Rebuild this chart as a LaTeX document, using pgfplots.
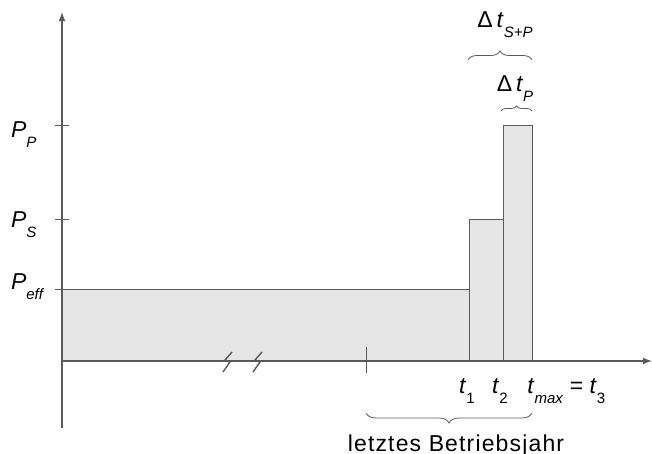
\documentclass[border=0pt]{standalone}
\usepackage{fontspec}
\setmainfont{Liberation Sans}
\usepackage{pgfplots}
\pgfplotsset{compat=1.18}
\usetikzlibrary{decorations.pathreplacing}
\definecolor{barfill}{RGB}{230,230,230}
\definecolor{linegray}{RGB}{90,90,90}
\newcommand{\sub}[1]{\raisebox{-0.4em}{\fontsize{7.5}{8}\selectfont #1}}

\begin{document}
\begin{tikzpicture}[font=\fontsize{11.5}{13}\selectfont]
\begin{axis}[
    x=0.5pt, y=0.5pt,
    xmin=0, xmax=590, ymin=-67, ymax=349,
    axis lines=middle,
    enlargelimits=false,
    axis line style={linegray, line width=0.6pt, -latex},
    xtick=\empty,
    ytick={71,141,235},
    yticklabels={{},{},{}},
    major tick length=6.5pt,
    tick style={linegray, line width=0.5pt},
    clip=false,
]
% power levels over time
\addplot[fill=barfill, draw=linegray, line width=0.5pt]
    coordinates {(0,0) (0,71) (407,71) (407,141) (441,141) (441,235) (470,235) (470,0)} \closedcycle;
\addplot[linegray, line width=0.5pt] coordinates {(407,0) (407,71)};
\addplot[linegray, line width=0.5pt] coordinates {(441,0) (441,141)};
% axis break marks and year tick
\addplot[linegray, line width=0.7pt] coordinates {(170,9) (163,1) (168,-1) (161,-11)};
\addplot[linegray, line width=0.7pt] coordinates {(200,9) (193,1) (198,-1) (191,-11)};
\addplot[linegray, line width=0.5pt] coordinates {(304,-12) (304,14)};

\draw[decorate, decoration={brace, amplitude=5pt}, linegray] (axis cs:470,-52) -- (axis cs:304,-52);
\draw[decorate, decoration={brace, amplitude=4.5pt}, linegray] (axis cs:406,301) -- (axis cs:470,301);
\draw[decorate, decoration={brace, amplitude=2.5pt}, linegray] (axis cs:439,250) -- (axis cs:470,250);

\node[anchor=base] at (axis cs:443,333) {Δ\,\textit{t}\sub{\textit{S+P}}};
\node[anchor=base] at (axis cs:453,269) {Δ\,\textit{t}\sub{\textit{P}}};
\node[anchor=base] at (axis cs:394,-91) {\addfontfeatures{LetterSpace=5}letztes Betriebsjahr};

\node[anchor=base west] at (axis cs:-58,223) {\textit{P}\sub{\textit{P}}};
\node[anchor=base west] at (axis cs:-58,133) {\textit{P}\sub{\textit{S}}};
\node[anchor=base west] at (axis cs:-58,71) {\textit{P}\sub{\textit{eff}}};

\node[anchor=base] at (axis cs:405,-33) {\textit{t}\sub{1}};
\node[anchor=base] at (axis cs:438,-33) {\textit{t}\sub{2}};
\node[anchor=base west, inner sep=0pt] at (axis cs:465,-33) {\textit{t}\sub{\textit{max}} = \textit{t}\sub{3}};

\coordinate (bl) at (axis cs:-62,-93);
\coordinate (tr) at (axis cs:590,361);
\end{axis}
\pgfresetboundingbox
\path[use as bounding box] (bl) rectangle (tr);
\end{tikzpicture}
\end{document}
